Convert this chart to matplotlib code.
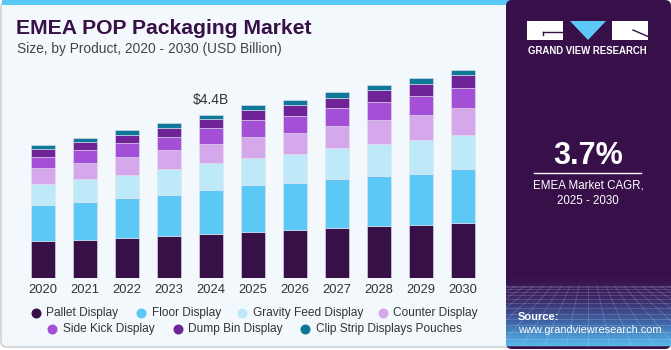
import numpy as np
import matplotlib
matplotlib.use("Agg")
import matplotlib.pyplot as plt
from matplotlib.patches import Rectangle, FancyBboxPatch, Polygon
from matplotlib.colors import LinearSegmentedColormap

plt.rcParams['font.family'] = ['Liberation Sans', 'DejaVu Sans']

years = ['2020', '2021', '2022', '2023', '2024', '2025', '2026', '2027', '2028', '2029', '2030']
segments = ['Pallet Display', 'Floor Display', 'Gravity Feed Display', 'Counter Display',
            'Side Kick Display', 'Dump Bin Display', 'Clip Strip Displays Pouches']
pallet  = [1.005, 1.043, 1.096, 1.150, 1.204, 1.258, 1.293, 1.347, 1.401, 1.436, 1.490]
floor   = [0.970, 1.024, 1.078, 1.105, 1.177, 1.247, 1.274, 1.328, 1.366, 1.382, 1.455]
gravity = [0.566, 0.612, 0.612, 0.682, 0.727, 0.735, 0.781, 0.835, 0.854, 0.897, 0.916]
counter = [0.423, 0.431, 0.485, 0.512, 0.512, 0.566, 0.574, 0.585, 0.647, 0.682, 0.719]
sidekick = [0.315, 0.350, 0.377, 0.358, 0.431, 0.458, 0.458, 0.493, 0.477, 0.512, 0.547]
dumpbin = [0.207, 0.224, 0.224, 0.251, 0.242, 0.277, 0.288, 0.277, 0.342, 0.331, 0.350]
clipstrip = [0.108, 0.100, 0.116, 0.116, 0.108, 0.116, 0.135, 0.143, 0.127, 0.154, 0.143]
series = [pallet, floor, gravity, counter, sidekick, dumpbin, clipstrip]
colors = ['#371047', '#5bc8f5', '#bde9f8', '#d4a8ea', '#a350d6', '#6e2496', '#0e7899']
label_year_idx = 4
label_text = '$4.4B'
cagr_text = '3.7%'

W, H = 671, 350
fig = plt.figure(figsize=(W / 100, H / 100), dpi=100)
fig.patch.set_facecolor('white')

# background axes in pixel coordinates
bg = fig.add_axes([0, 0, 1, 1], zorder=-1)
bg.set_xlim(0, W)
bg.set_ylim(H, 0)
bg.axis('off')

bg.add_patch(FancyBboxPatch((1, 1), 520, 346, boxstyle='round,pad=0,rounding_size=6',
                            facecolor='#f3f8fc', edgecolor='#cfd3d6', linewidth=1.2))
bg.add_patch(Rectangle((2, 0), 510, 5, facecolor='#5bc8f5', edgecolor='none'))

# right panel
bg.add_patch(FancyBboxPatch((506, 0), 165, 349, boxstyle='round,pad=0,rounding_size=6',
                            facecolor='#381049', edgecolor='none'))
cmap = LinearSegmentedColormap.from_list('g', ['#381049', '#3b2a6a', '#3f66a8', '#56b9ec'])
grad = np.linspace(0, 1, 100).reshape(-1, 1)
bg.imshow(grad, extent=(506, 671, 346, 276), cmap=cmap, aspect='auto', zorder=1)
bg.set_xlim(0, W)
bg.set_ylim(H, 0)
# perspective grid
for k in range(14):
    t = k / 13
    y = 286 + 60 * t ** 1.6
    bg.plot([506, 671], [y, y], color='white', alpha=0.18, lw=0.6, zorder=2)
for k in range(-14, 15):
    x0 = 588 + k * 9
    x1 = 588 + k * 22
    bg.plot([x0, x1], [286, 346], color='white', alpha=0.18, lw=0.6, zorder=2)
bg.set_xlim(0, W)
bg.set_ylim(H, 0)

# logo
bg.add_patch(Rectangle((527, 21), 36, 19, facecolor='white', edgecolor='none', zorder=3))
bg.plot([543, 563], [31.5, 31.5], color='#381049', lw=1, zorder=4)
bg.plot([543, 543], [31.5, 35], color='#381049', lw=1, zorder=4)
bg.add_patch(Polygon([(570, 21), (606, 21), (588, 40)], closed=True,
                     facecolor='#5bc8f5', edgecolor='none', zorder=3))
bg.add_patch(Rectangle((612, 21), 36, 19, facecolor='white', edgecolor='none', zorder=3))
bg.plot([633, 648], [30, 36.5], color='#381049', lw=1, zorder=4)
bg.text(587.5, 51.5, 'GRAND VIEW RESEARCH', color='white', fontsize=6.9, fontweight='bold',
        ha='center', va='center', zorder=4)

bg.text(588, 156, cagr_text, color='white', fontsize=22, fontweight='bold',
        ha='center', va='center', zorder=4)
bg.plot([534, 641], [173.3, 173.3], color='white', lw=1, zorder=4)
bg.text(588, 185, 'EMEA Market CAGR,', color='white', fontsize=8.3, ha='center', va='center', zorder=4)
bg.text(588, 201, '2025 - 2030', color='white', fontsize=8.3, ha='center', va='center', zorder=4)
bg.text(518, 316.5, 'Source:', color='white', fontsize=8, fontweight='bold', ha='left', va='center', zorder=4)
bg.text(518, 330, 'www.grandviewresearch.com', color='white', fontsize=7.9, ha='left', va='center', zorder=4)

# titles
bg.text(16.5, 34.3, 'EMEA POP Packaging Market', color='#371047', fontsize=15.2, fontweight='bold',
        ha='left', va='baseline')
bg.text(17, 53.3, 'Size, by Product, 2020 - 2030 (USD Billion)', color='#444444', fontsize=9.9,
        ha='left', va='baseline')

# legend (manual positions)
leg_pos = [(36, 313.3), (141, 313.3), (242.3, 313.3), (382.7, 313.3),
           (52.3, 329), (177.7, 329), (305, 329)]
for (x, y), name, c in zip(leg_pos, segments, colors):
    bg.plot([x], [y], 'o', ms=7.2, color=c, mec='none')
    bg.text(x + 10.5, y, name, fontsize=8.6, color='#333333', ha='left', va='center')

# main chart
base_px = 278.3
f = 4.4 / 163.3
top_px = 60
ax = fig.add_axes([22 / W, (H - base_px) / H, 462 / W, (base_px - top_px) / H])
ax.set_facecolor('none')
x = np.arange(len(years))
bottom = np.zeros(len(years))
for vals, c, name in zip(series, colors, segments):
    ax.bar(x, vals, 0.571, bottom=bottom, color=c, edgecolor='#e6e0ee', linewidth=0.4, label=name)
    bottom += np.array(vals)
ax.set_xlim(-0.5, len(years) - 0.5)
ax.set_ylim(0, (base_px - top_px) * f)
ax.set_xticks(x)
ax.set_xticklabels(years, fontsize=9.3, color='#333333')
ax.tick_params(axis='x', length=0, pad=4)
ax.set_yticks([])
for s in ax.spines.values():
    s.set_visible(False)
ax.annotate(label_text, (x[label_year_idx], bottom[label_year_idx]), xytext=(0, 11),
            textcoords='offset points', ha='center', va='center', fontsize=10, color='#333333')

fig.savefig('out.png', dpi=100)
